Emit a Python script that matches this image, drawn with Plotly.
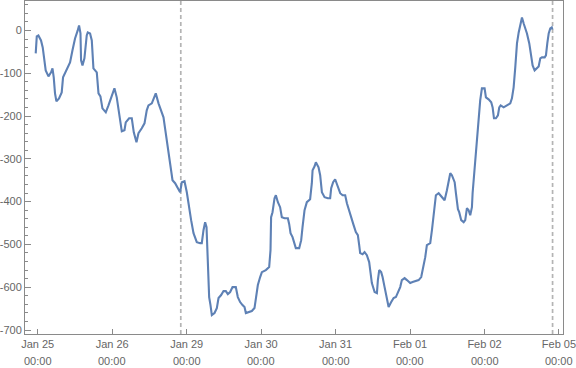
import plotly.graph_objects as go

# trading-day index (weekends collapsed), 0 = Jan 25 00:00
t_days = [-0.027, -0.013, 0.009, 0.044, 0.067, 0.090, 0.107, 0.144, 0.179, 0.198,
          0.215, 0.232, 0.251, 0.286, 0.322, 0.340, 0.390, 0.434, 0.466, 0.501,
          0.537, 0.555, 0.574, 0.582, 0.601, 0.627, 0.658, 0.672, 0.703, 0.726,
          0.748, 0.770, 0.793, 0.816, 0.842, 0.869, 0.914, 0.950, 0.985, 1.030,
          1.061, 1.092, 1.111, 1.129, 1.165, 1.182, 1.227, 1.263, 1.290, 1.326,
          1.353, 1.397, 1.434, 1.464, 1.487, 1.532, 1.568, 1.585, 1.622, 1.643,
          1.689, 1.710, 1.747, 1.778, 1.810, 1.845, 1.881, 1.912, 1.935, 1.971,
          2.002, 2.033, 2.060, 2.092, 2.136, 2.181, 2.203, 2.226, 2.248, 2.267,
          2.275, 2.280, 2.284, 2.302, 2.320, 2.338, 2.374, 2.405, 2.428, 2.463,
          2.495, 2.526, 2.553, 2.584, 2.616, 2.660, 2.687, 2.718, 2.750, 2.777,
          2.795, 2.831, 2.875, 2.911, 2.929, 2.956, 2.987, 3.010, 3.063, 3.108,
          3.126, 3.134, 3.153, 3.180, 3.198, 3.225, 3.255, 3.278, 3.315, 3.359,
          3.377, 3.395, 3.422, 3.449, 3.466, 3.511, 3.538, 3.556, 3.583, 3.614,
          3.658, 3.681, 3.691, 3.718, 3.735, 3.771, 3.793, 3.816, 3.852, 3.896,
          3.927, 3.941, 3.967, 3.994, 4.021, 4.062, 4.094, 4.129, 4.152, 4.174,
          4.209, 4.242, 4.272, 4.299, 4.317, 4.330, 4.363, 4.389, 4.420, 4.451,
          4.470, 4.487, 4.524, 4.555, 4.568, 4.586, 4.612, 4.631, 4.658, 4.689,
          4.712, 4.747, 4.779, 4.810, 4.837, 4.868, 4.890, 4.927, 4.958, 5.002,
          5.034, 5.069, 5.115, 5.150, 5.182, 5.204, 5.226, 5.271, 5.294, 5.316,
          5.330, 5.347, 5.384, 5.405, 5.437, 5.464, 5.495, 5.518, 5.540, 5.562,
          5.599, 5.616, 5.643, 5.660, 5.687, 5.720, 5.741, 5.764, 5.787, 5.808,
          5.831, 5.840, 5.854, 5.875, 5.898, 5.921, 5.942, 5.965, 6.001, 6.019,
          6.055, 6.090, 6.109, 6.127, 6.153, 6.180, 6.198, 6.217, 6.257, 6.301,
          6.346, 6.368, 6.391, 6.413, 6.436, 6.459, 6.480, 6.503, 6.526, 6.547,
          6.570, 6.601, 6.628, 6.646, 6.673, 6.704, 6.727, 6.749, 6.771, 6.808,
          6.825, 6.843, 6.862, 6.883, 6.903, 6.912]

values = [-53.7, -14.0, -11.7, -23.3, -39.7, -74.7, -93.3, -107.3, -98.0, -88.7,
          -109.7, -147.0, -165.7, -158.7, -144.7, -109.7, -88.7, -74.7, -46.7, -18.7,
          0.0, 11.7, -7.0, -70.0, -81.7, -65.3, -11.7, -4.7, -7.0, -23.3,
          -88.7, -93.3, -98.0, -147.0, -154.0, -182.0, -191.3, -175.0, -156.3, -135.3,
          -156.3, -186.7, -214.7, -235.7, -233.3, -214.7, -205.3, -205.3, -238.0, -261.3,
          -240.3, -228.7, -217.0, -186.7, -175.0, -170.3, -151.7, -147.0, -170.3, -182.0,
          -203.0, -228.7, -273.0, -310.3, -350.0, -357.0, -368.7, -378.0, -354.7, -352.3,
          -378.0, -415.3, -443.3, -473.7, -494.7, -497.0, -497.0, -466.7, -448.0, -459.7,
          -497.0, -553.0, -583.3, -623.0, -641.7, -665.0, -660.3, -648.7, -625.3, -618.3,
          -609.0, -609.0, -616.0, -611.3, -599.7, -599.7, -623.0, -634.7, -641.7, -646.3,
          -660.3, -658.0, -655.7, -648.7, -630.0, -595.0, -576.3, -564.7, -560.0, -553.0,
          -513.3, -436.3, -424.7, -392.0, -385.0, -401.3, -413.0, -436.3, -438.7, -438.7,
          -452.7, -473.7, -483.0, -497.0, -508.7, -508.7, -490.0, -459.7, -420.0, -401.3,
          -394.3, -357.0, -326.7, -317.3, -308.0, -319.7, -338.3, -378.0, -389.7, -392.0,
          -392.0, -368.7, -354.7, -347.7, -361.7, -380.3, -385.0, -385.0, -403.7, -417.7,
          -436.3, -455.0, -471.3, -478.3, -501.7, -520.3, -522.7, -518.0, -525.0, -541.3,
          -567.0, -590.3, -611.3, -613.7, -583.3, -560.0, -564.7, -576.3, -599.7, -630.0,
          -646.3, -634.7, -625.3, -623.0, -611.3, -599.7, -583.3, -578.7, -583.3, -590.3,
          -588.0, -585.7, -583.3, -576.3, -553.0, -529.7, -501.7, -497.0, -466.7, -436.3,
          -413.0, -385.0, -380.3, -385.0, -392.0, -396.7, -373.3, -350.0, -333.7, -338.3,
          -354.7, -380.3, -417.7, -424.7, -443.3, -448.0, -443.3, -415.3, -420.0, -431.7,
          -413.0, -380.3, -350.0, -310.3, -256.7, -203.0, -163.3, -135.3, -135.3, -156.3,
          -161.0, -168.0, -179.7, -205.3, -205.3, -198.3, -179.7, -175.0, -179.7, -175.0,
          -170.3, -158.7, -133.0, -86.3, -30.3, -4.7, 16.3, 30.3, 16.3, 7.0,
          -7.0, -30.3, -58.3, -81.7, -93.3, -86.3, -84.0, -65.3, -63.0, -63.0,
          -58.3, -30.3, -7.0, 4.7, 7.0, 2.3]

tick_days = [0, 1, 2, 3, 4, 5, 6, 7]
tick_dates = ["Jan 25", "Jan 26", "Jan 29", "Jan 30", "Jan 31", "Feb 01", "Feb 02", "Feb 05"]
tick_times = ["00:00"] * 8
break_days = [1.921, 6.914]
y_ticks = [0, -100, -200, -300, -400, -500, -600, -700]
y_labels = ["0", "-100", "-200", "-300", "-400", "-500", "-600", "-700"]

FONT = "Liberation Sans, Arial, sans-serif"
LABEL = "#666666"
FRAME = "#8a8a8a"

fig = go.Figure()
fig.add_trace(go.Scatter(x=t_days, y=values, mode="lines",
                         line=dict(color="#5E81B5", width=2.1),
                         hoverinfo="skip", showlegend=False))

for b in break_days:
    fig.add_vline(x=b, line=dict(color="#b4b4b4", width=1.7, dash="4px,3px"), layer="below")

for d, lab in zip(tick_days, tick_times):
    fig.add_annotation(x=d, xref="x", y=0, yref="paper", yanchor="top",
                       yshift=-19, text=lab, showarrow=False,
                       font=dict(family=FONT, size=11, color=LABEL))

fig.update_layout(
    width=576, height=368,
    margin=dict(l=25, r=13, t=1, b=34, autoexpand=False),
    paper_bgcolor="white", plot_bgcolor="white",
    showlegend=False,
    xaxis=dict(range=[-0.171, 7.054], tickmode="array", tickvals=tick_days,
               ticktext=tick_dates, ticks="inside", ticklen=5, tickwidth=1,
               tickcolor=FRAME, showline=True, linecolor=FRAME, linewidth=1,
               mirror=True, showgrid=False, zeroline=False, automargin=False,
               ticklabeloverflow="allow",
               tickfont=dict(family=FONT, size=11, color=LABEL)),
    yaxis=dict(range=[-709.3, 68.8], tickmode="array", tickvals=y_ticks,
               ticktext=y_labels, ticks="inside", ticklen=6, tickwidth=1,
               tickcolor=FRAME, showline=True, linecolor=FRAME, linewidth=1,
               mirror=True, showgrid=False, zeroline=False, automargin=False,
               ticklabeloverflow="allow",
               minor=dict(tickmode="linear", tick0=0, dtick=20, ticks="inside",
                          ticklen=3, tickcolor=FRAME, showgrid=False),
               tickfont=dict(family=FONT, size=11, color=LABEL)),
)

fig.write_html("out.html", config={"displayModeBar": False},
               post_script="document.body.style.margin='0';document.body.style.overflow='hidden';")
